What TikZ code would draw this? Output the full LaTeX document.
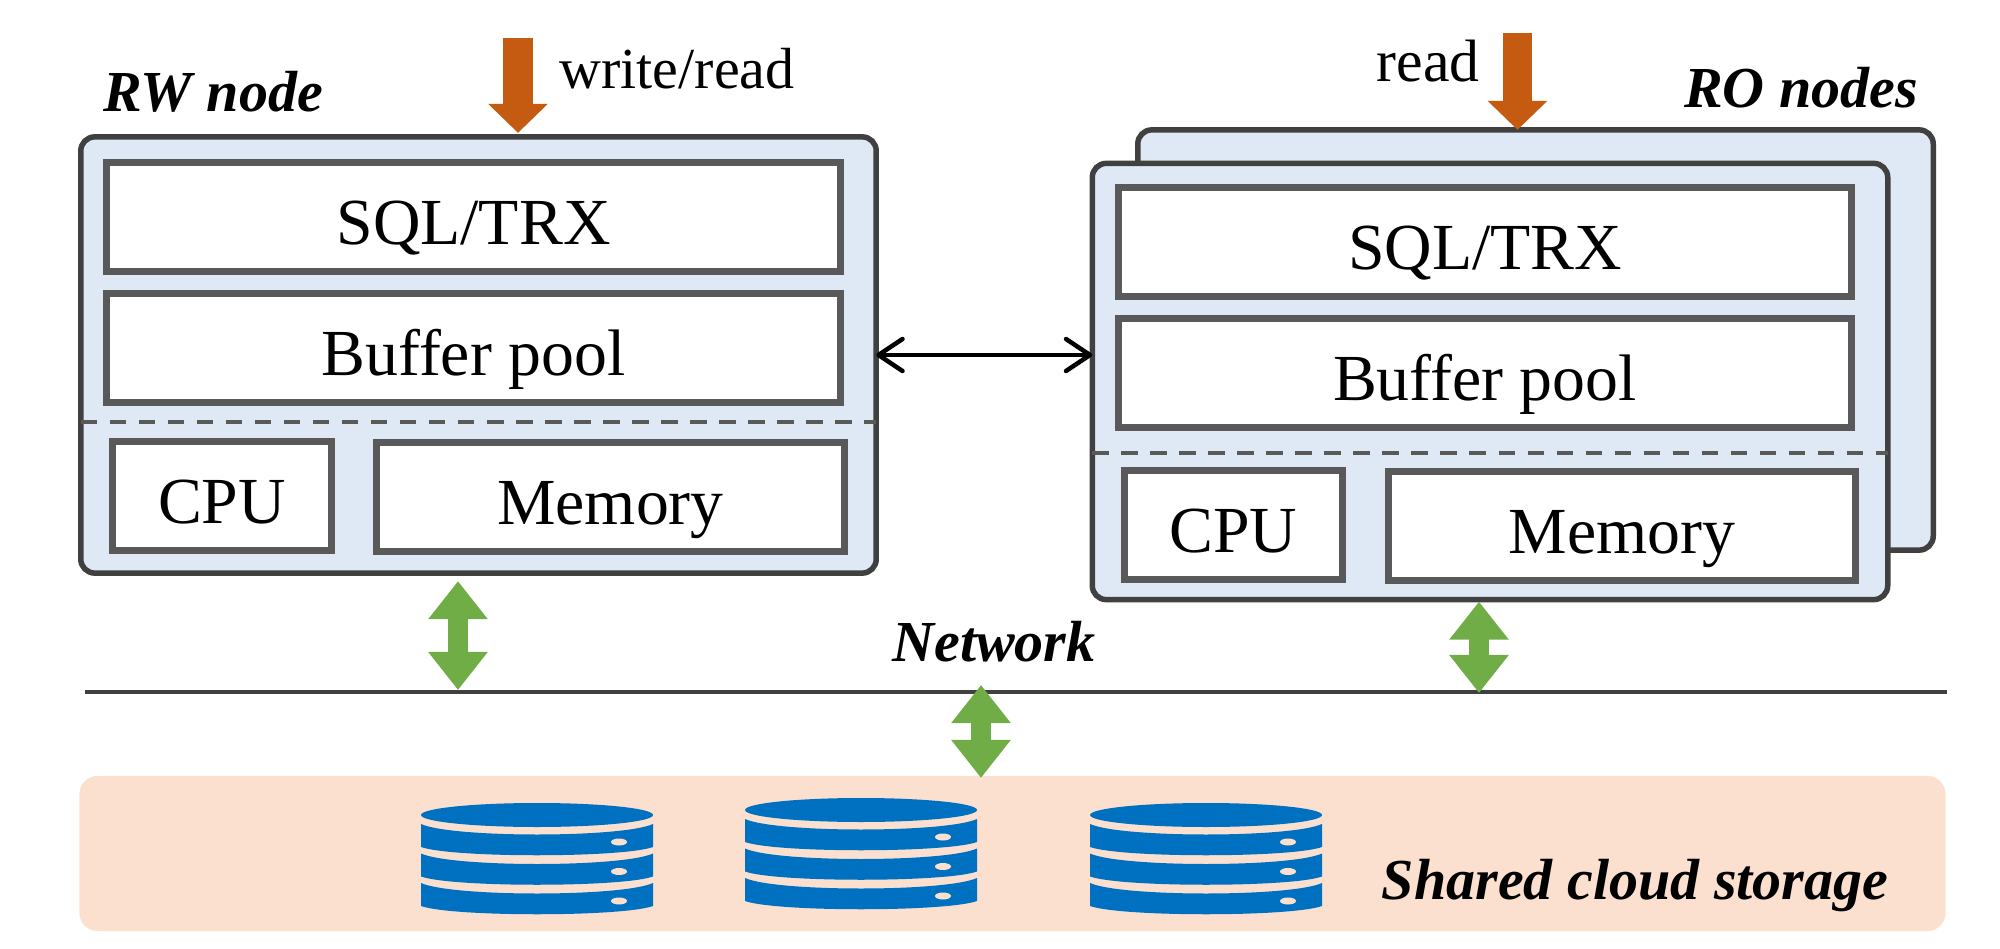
\documentclass[tikz,border=0pt]{standalone}
\usepackage{fontspec}
\setmainfont{Liberation Serif}
\usetikzlibrary{arrows.meta}

\definecolor{panelblue}{HTML}{DEE9F5}
\definecolor{panelline}{HTML}{404040}
\definecolor{boxline}{HTML}{595959}
\definecolor{netgreen}{HTML}{70AD47}
\definecolor{iorange}{HTML}{C55A11}
\definecolor{diskblue}{HTML}{0070C0}
\definecolor{storepeach}{HTML}{FBE0D0}

\tikzset{
    panelbox/.style={draw=panelline,fill=panelblue,line width=.055cm,rounded corners=.14cm,minimum width=7.95cm,minimum height=4.36cm,outer sep=0pt},
    layerbox/.style={draw=boxline,fill=white,line width=.07cm,outer sep=0pt,inner sep=0pt,text height=.54cm,text depth=0pt,font=\fontsize{18.7}{22}\selectfont},
    titletext/.style={font=\fontsize{16.5}{20}\selectfont\bfseries\itshape,inner sep=0pt},
    iotext/.style={font=\fontsize{16.5}{20}\selectfont,inner sep=0pt},
    ioarrow/.style={draw=iorange,line width=.29cm,-{Triangle[length=.29cm,width=.58cm,fill=iorange]}},
    netarrow/.style={draw=netgreen,line width=.2cm,{Triangle[length=.38cm,width=.57cm,fill=netgreen]}-{Triangle[length=.38cm,width=.57cm,fill=netgreen]}},
    diskstack/.pic={
        \fill[diskblue] (0,0) ellipse [x radius=116,y radius=12];
        \foreach \d in {0,29.5,59} {
            \fill[diskblue] (-116,9+\d) .. controls (-85,23+\d) and (85,23+\d) .. (116,9+\d)
                -- (116,32+\d) .. controls (85,43+\d) and (-85,43+\d) .. (-116,32+\d) -- cycle;
            \fill[storepeach] (82,27+\d) ellipse [x radius=8,y radius=3.5];
        }
    }
}

\begin{document}
\begin{tikzpicture}[x=.01cm,y=-.01cm]
    \useasboundingbox (0,0) rectangle (2000,949);

    % storage and network
    \node[fill=storepeach,rounded corners=.18cm,minimum width=18.65cm,minimum height=1.55cm,outer sep=0pt] (storage) at (1012.5,853.5) {};
    \pic at (537,815) {diskstack};
    \pic at (861,810) {diskstack};
    \pic at (1206,815) {diskstack};
    \node[titletext] (storagetitle) at (1635,886) {Shared cloud storage};
    \coordinate (netleft) at (85,692);
    \coordinate (netright) at (1947,692);
    \draw[panelline,line width=.04cm] (netleft) -- (netright);
    \node[titletext] (nettitle) at (994,642) {Network};

    % nodes
    \node[panelbox,minimum height=4.2cm] (roback) at (1535.5,340) {};
    \foreach \p/\dx/\dy/\ty/\py/\dashy in {rw/0/0/0/355/.67,ro/1011.5/29/25/381.5/.715} {
        \node[panelbox] (\p panel) at (478.5+\dx,\py) {};
        \node[layerbox,minimum width=7.33cm,minimum height=1.09cm] (\p sql) at (473.5+\dx,217+\ty) {SQL/TRX};
        \node[layerbox,minimum width=7.33cm,minimum height=1.08cm] (\p buffer) at (473.5+\dx,348+\ty) {Buffer pool};
        \node[layerbox,minimum width=2.18cm,minimum height=1.09cm] (\p cpu) at (222+\dx,496+\dy) {CPU};
        \node[layerbox,minimum width=4.67cm,minimum height=1.09cm] (\p mem) at (610.5+\dx,497+\dy) {Memory};
        \draw[boxline,line width=.04cm,dash pattern=on .165cm off .125cm] ([yshift=-\dashy cm]\p panel.west) -- ([yshift=-\dashy cm]\p panel.east);
    }

    \node[titletext] (rwtitle) at (213,92) {RW node};
    \node[titletext] (rotitle) at (1801,88) {RO nodes};
    \node[iotext] (rwio) at (677,69) {write/read};
    \node[iotext,font=\fontsize{17}{20}\selectfont] (roio) at (1428,61) {read};

    % arrows
    \coordinate (rwin) at (518,38);
    \coordinate (roin) at (1517.5,33);
    \draw[ioarrow] (rwin) -- ([yshift=.04cm]rwin |- rwpanel.north);
    \draw[ioarrow] (roin) -- (roin |- roback.north);
    \draw[line width=.045cm,line cap=round,{Straight Barb[length=.24cm,width=.32cm,round]}-{Straight Barb[length=.24cm,width=.32cm,round]}] (rwpanel.east) -- (ropanel.west |- rwpanel.east);
    \coordinate (rwnet) at (458,690);
    \coordinate (ronet) at (1479,693);
    \coordinate (storenet) at (981,685);
    \draw[netarrow] ([yshift=-.08cm]rwnet |- rwpanel.south) -- (rwnet);
    \draw[netarrow] ([yshift=-.02cm]ronet |- ropanel.south) -- (ronet);
    \draw[netarrow] (storenet) -- ([yshift=-.02cm]storenet |- storage.north);
\end{tikzpicture}
\end{document}
